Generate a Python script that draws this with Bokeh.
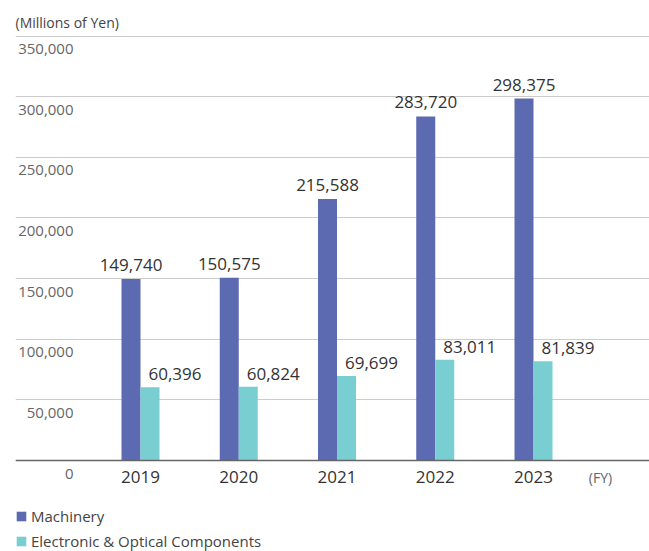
from bokeh.plotting import figure
from bokeh.models import (ColumnDataSource, FixedTicker, Legend, LegendItem, Label,
                          Range1d)
from bokeh.core.properties import value
from bokeh.transform import dodge
from bokeh.embed import file_html
from bokeh.resources import INLINE

years = ["2019", "2020", "2021", "2022", "2023"]
machinery = [149740, 150575, 215588, 283720, 298375]
electronic = [60396, 60824, 69699, 83011, 81839]
y_ticks = [0, 50000, 100000, 150000, 200000, 250000, 300000, 350000]
series_names = ["Machinery", "Electronic & Optical Components"]
unit_label = "(Millions of Yen)"
fy_label = "(FY)"

FONT = "Open Sans"
C_MACH = "#5c6ab2"
C_ELEC = "#78ced0"

xs = list(range(len(years)))
src = ColumnDataSource(dict(
    x=xs,
    mach=machinery,
    elec=electronic,
    mach_t=[f"{v:,}" for v in machinery],
    elec_t=[f"{v:,}" for v in electronic],
))

x_range = Range1d(-1.2723, 5.1807)
p = figure(width=649, height=551,
           x_range=x_range, y_range=Range1d(-75029, 351237),
           output_backend="svg", toolbar_location=None,
           min_border_left=15, min_border_right=0, min_border_top=34, min_border_bottom=0)
p.outline_line_color = None
p.background_fill_color = "white"
p.border_fill_color = "white"

bw = 0.1934
r1 = p.vbar(x=dodge("x", -bw / 2, range=p.x_range), top="mach", bottom=0, width=bw,
            source=src, fill_color=C_MACH, line_color=None)
r2 = p.vbar(x=dodge("x", bw / 2, range=p.x_range), top="elec", bottom=0, width=bw,
            source=src, fill_color=C_ELEC, line_color=None)

p.text(x=dodge("x", -bw / 2, range=p.x_range), y="mach", text="mach_t", source=src,
       text_align="center", text_baseline="alphabetic", y_offset=-14,
       text_font=value(FONT), text_font_size="17px", text_color="#333333")
p.text(x=dodge("x", bw / 2, range=p.x_range), y="elec", text="elec_t", source=src,
       text_align="left", text_baseline="alphabetic", y_offset=-13, x_offset=-1.5,
       text_font=value(FONT), text_font_size="17px", text_color="#333333")

# grid
p.xgrid.visible = False
p.ygrid.ticker = FixedTicker(ticks=y_ticks)
p.ygrid.grid_line_color = "#cccccc"
p.ygrid.grid_line_width = 1

# y axis hidden; its tick labels are drawn inside the plot, below each grid line
p.yaxis.ticker = FixedTicker(ticks=y_ticks)
p.yaxis.visible = False
ytick_src = ColumnDataSource(dict(
    x=[x_range.start] * len(y_ticks),
    y=y_ticks,
    t=[f"{v:,}" for v in y_ticks],
))
p.text(x="x", y="y", text="t", source=ytick_src, x_offset=58, y_offset=8,
       text_align="right", text_baseline="top",
       text_font=value(FONT), text_font_size="15px", text_color="#666666")

# x axis fixed at y = 0 inside the frame
p.xaxis.fixed_location = 0
p.xaxis.ticker = FixedTicker(ticks=xs)
p.xaxis.major_label_overrides = {i: y for i, y in zip(xs, years)}
p.xaxis.axis_line_color = "#666666"
p.xaxis.axis_line_width = 1.5
p.xaxis.major_tick_line_color = None
p.xaxis.minor_tick_line_color = None
p.xaxis.major_tick_out = 0
p.xaxis.major_tick_in = 0
p.xaxis.major_label_standoff = 10
p.xaxis.major_label_text_font = FONT
p.xaxis.major_label_text_font_size = "17px"
p.xaxis.major_label_text_color = "#333333"

p.add_layout(Label(x=4.682, y=-14000, text=fy_label, text_align="center",
                   text_baseline="middle", text_font=FONT, text_font_size="14px",
                   text_color="#666666"))

# title
p.title.text = unit_label
p.title.text_font = FONT
p.title.text_font_size = "14px"
p.title.text_font_style = "normal"
p.title.text_color = "#444444"
p.title.standoff = 6
p.title.offset = 0

legend = Legend(items=[LegendItem(label=series_names[0], renderers=[r1]),
                       LegendItem(label=series_names[1], renderers=[r2])],
                location=(0, 0), orientation="vertical",
                glyph_width=12, glyph_height=12, label_standoff=4,
                label_text_font=FONT, label_text_font_size="15px",
                label_text_color="#444444", label_height=20, spacing=5,
                padding=0, margin=0, border_line_color=None,
                background_fill_alpha=0)
p.add_layout(legend)

open("out.html", "w").write(file_html(p, INLINE))
